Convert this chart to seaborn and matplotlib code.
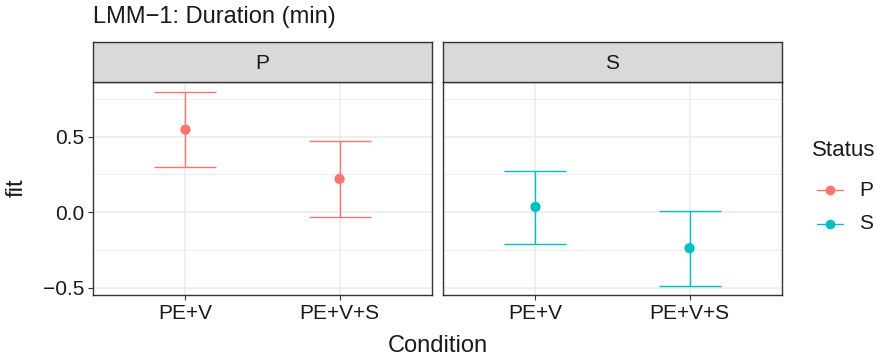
import matplotlib
matplotlib.use("Agg")
import matplotlib.pyplot as plt
from matplotlib.lines import Line2D
from matplotlib.ticker import MultipleLocator
import seaborn as sns
import pandas as pd

sns.set_theme(style="white")
plt.rcParams['font.family'] = ['Liberation Sans', 'DejaVu Sans']

# ---- data ----
conditions = ["PE+V", "PE+V+S", "PE+V", "PE+V+S"]
status = ["P", "P", "S", "S"]
fit = [0.546, 0.220, 0.035, -0.238]
lower = [0.297, -0.033, -0.207, -0.485]
upper = [0.795, 0.471, 0.275, 0.007]
panels = ["P", "S"]
palette = {"P": "#F8766D", "S": "#00BFC4"}
title = "LMM\u22121: Duration (min)"

df = pd.DataFrame({"Condition": conditions, "Status": status, "fit": fit,
                   "lower": lower, "upper": upper})

W, H = 877, 361
fig = plt.figure(figsize=(W / 100, H / 100), dpi=100)

def fx(px):
    return px / W

def fy(py):
    return 1 - py / H

panel_x = [(93, 432), (443, 782)]
ptop, pbot = 82, 295
stop = 42

TXT = "#1a1a1a"
grid_c = "#EBEBEB"
border_c = "#333333"
axes = []
for i, (name, (x0, x1)) in enumerate(zip(panels, panel_x)):
    ax = fig.add_axes([fx(x0), fy(pbot), fx(x1 - x0), (pbot - ptop) / H])
    axes.append(ax)
    sub = df[df["Status"] == name]
    col = palette[name]
    ax.errorbar(sub["Condition"], sub["fit"],
                yerr=[sub["fit"] - sub["lower"], sub["upper"] - sub["fit"]],
                fmt="none", ecolor=col, elinewidth=1.0, capsize=22,
                capthick=1.0, zorder=3)
    sns.scatterplot(data=sub, x="Condition", y="fit", hue="Status",
                    palette=palette, s=55, edgecolor="none", ax=ax,
                    legend=False, zorder=4)
    ax.set_xlim(-0.6, 1.6)
    ax.set_ylim(-0.547, 0.861)
    ax.yaxis.set_minor_locator(MultipleLocator(0.25))
    ax.grid(True, which="major", color=grid_c, linewidth=1.1, zorder=0)
    ax.grid(True, which="minor", axis="y", color=grid_c, linewidth=0.6, zorder=0)
    ax.set_axisbelow(True)
    for s in ax.spines.values():
        s.set_color(border_c)
        s.set_linewidth(1.0)
    ax.set_xlabel("")
    ax.set_ylabel("")
    ax.set_yticks([-0.5, 0.0, 0.5])
    ax.tick_params(axis="both", which="major", length=3.5, width=0.8,
                   color=border_c, labelsize=15, labelcolor=TXT, pad=3)
    ax.tick_params(axis="y", which="minor", length=0)
    ax.tick_params(left=True, bottom=True)
    if i == 0:
        ax.set_yticklabels(["\u22120.5", "0.0", "0.5"])
    else:
        ax.tick_params(axis="y", labelleft=False, left=False)
    # strip
    sax = fig.add_axes([fx(x0), fy(ptop), fx(x1 - x0), (ptop - stop) / H])
    sax.set_xticks([])
    sax.set_yticks([])
    sax.set_facecolor("#D9D9D9")
    for s in sax.spines.values():
        s.set_color(border_c)
        s.set_linewidth(1.0)
    sax.text(0.5, 0.47, name, ha="center", va="center", fontsize=15,
             color=TXT, transform=sax.transAxes)

fig.text(fx(93), fy(17), title, ha="left", va="center", fontsize=17, color=TXT)
fig.text(fx(437.5), fy(346), "Condition", ha="center", va="center", fontsize=17, color=TXT)
fig.text(fx(17), fy(188), "fit", ha="center", va="center", rotation=90, fontsize=17, color=TXT)

# legend (manual layout)
fig.text(fx(812), fy(150), "Status", ha="left", va="center", fontsize=16, color=TXT)
for k, yy in zip(panels, [190, 224]):
    fig.add_artist(Line2D([fx(817), fx(843)], [fy(yy), fy(yy)], color=palette[k],
                          linewidth=1.0, transform=fig.transFigure))
    fig.add_artist(Line2D([fx(830)], [fy(yy)], color=palette[k], marker="o",
                          markersize=7, markeredgewidth=0, linestyle="none",
                          transform=fig.transFigure))
    fig.text(fx(859), fy(yy), k, ha="left", va="center", fontsize=15, color=TXT)

fig.savefig("out.png", dpi=100, facecolor="white")
